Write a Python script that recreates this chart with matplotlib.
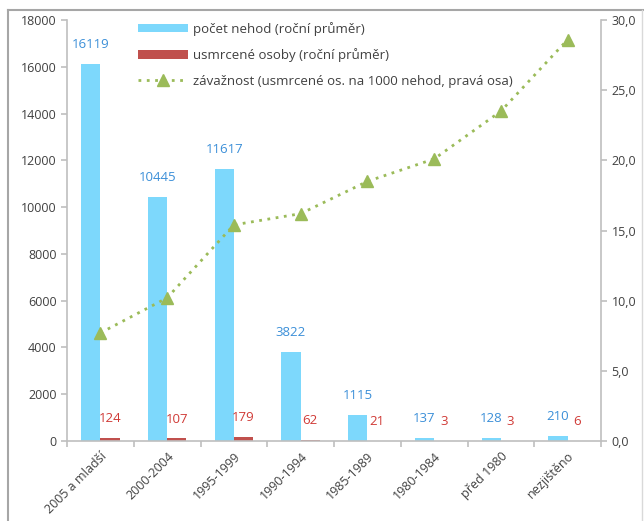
import matplotlib
matplotlib.use('Agg')
import matplotlib.pyplot as plt
from matplotlib.lines import Line2D
import numpy as np

plt.rcParams['font.family'] = ['Open Sans', 'DejaVu Sans']

categories = ['2005 a mladší', '2000-2004', '1995-1999', '1990-1994',
              '1985-1989', '1980-1984', 'před 1980', 'nezjištěno']
nehody = [16119, 10445, 11617, 3822, 1115, 137, 128, 210]
usmrceni = [124, 107, 179, 62, 21, 3, 3, 6]
zavaznost = [7.7, 10.2, 15.4, 16.2, 18.5, 20.1, 23.5, 28.6]

blue = '#7DD8FC'
red = '#C0504D'
green = '#9BBB59'
axis_gray = '#BFBFBF'
text_gray = '#404040'

fig = plt.figure(figsize=(6.44, 5.21), dpi=100)
ax = fig.add_axes([67/644, 1-441/521, (601-67)/644, (441-20)/521])
ax2 = ax.twinx()

x = np.arange(len(categories))
w = 0.29
b1 = ax.bar(x - w/2, nehody, w, color=blue, label='počet nehod (roční průměr)', zorder=2)
b2 = ax.bar(x + w/2, usmrceni, w, color=red, label='usmrcené osoby (roční průměr)', zorder=2)
l1, = ax2.plot(x, zavaznost, linestyle=(0, (1, 2)), color=green, lw=2,
               marker='^', markersize=8, markeredgecolor=green,
               label='závažnost (usmrcené os. na 1000 nehod, pravá osa)')

for xi, v in zip(x, nehody):
    ax.annotate(str(v), (xi - w/2, v), xytext=(0, 14), textcoords='offset points',
                ha='center', va='center', color='#3B8FD8', fontsize=9.5)
for xi, v in zip(x, usmrceni):
    ax.annotate(str(v), (xi + w/2, v), xytext=(0, 14), textcoords='offset points',
                ha='center', va='center', color='#D03A36', fontsize=9.5)

ax.set_xlim(-0.5, len(categories) - 0.5)
ax.set_ylim(0, 18000)
ax.set_yticks(range(0, 18001, 2000))
ax2.set_ylim(0, 30)
ax2.set_yticks(range(0, 31, 5))
ax2.set_yticklabels([('%.1f' % t).replace('.', ',') for t in range(0, 31, 5)])

ax.set_xticks(x)
ax.set_xticklabels(categories, rotation=45, ha='right', rotation_mode='anchor')
ax.set_xticks(np.arange(-0.5, len(categories), 1), minor=True)
ax.tick_params(axis='x', which='major', length=0, pad=6, labelsize=9, labelcolor=text_gray)
ax.tick_params(axis='x', which='minor', length=4, color=axis_gray, width=1.2)
ax.tick_params(axis='y', length=4, color=axis_gray, width=1.2, labelsize=9, labelcolor=text_gray)
ax2.tick_params(axis='y', length=4, color=axis_gray, width=1.2, labelsize=9, labelcolor=text_gray)

for a in (ax, ax2):
    for s in a.spines.values():
        s.set_visible(False)
ax.spines['left'].set_visible(True)
ax.spines['left'].set_color(axis_gray)
ax.spines['left'].set_linewidth(1.2)
ax.spines['bottom'].set_visible(True)
ax.spines['bottom'].set_color(axis_gray)
ax.spines['bottom'].set_linewidth(1.2)
ax2.spines['right'].set_visible(True)
ax2.spines['right'].set_color(axis_gray)
ax2.spines['right'].set_linewidth(1.2)

leg = ax2.legend([b1, b2, l1], [b1.get_label(), b2.get_label(), l1.get_label()],
                 loc='upper left', bbox_to_anchor=(126/644, 1-10/521),
                 bbox_transform=fig.transFigure, frameon=False, fontsize=9.5,
                 handlelength=3.8, handleheight=0.6, labelspacing=0.95,
                 handletextpad=0.4, labelcolor=text_gray)

# outer chart border
fig.add_artist(Line2D([8/644, 8/644], [0, 1-10/521], color='#A6A6A6', lw=1.5))
fig.add_artist(Line2D([8/644, 1], [1-10/521, 1-10/521], color='#A6A6A6', lw=1.5))
fig.add_artist(Line2D([642/644, 642/644], [0, 1-10/521], color='#D9D9D9', lw=1))

fig.savefig('out.png', dpi=100)
